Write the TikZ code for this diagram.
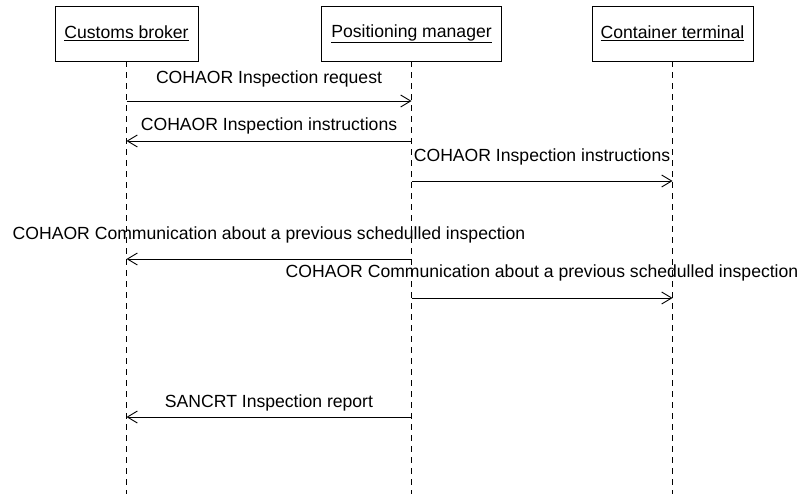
\documentclass[tikz,border=0pt]{standalone}
\usepackage{fontspec}
\setmainfont{Liberation Sans}
\usetikzlibrary{arrows.meta}
\begin{document}
\begin{tikzpicture}[x=1pt,y=-1pt,
  actor/.style={draw,line width=0.9pt,inner sep=0pt,minimum height=55pt,font=\fontsize{17.6}{20}\selectfont},
  lifeline/.style={line width=0.9pt,dash pattern=on 6pt off 5pt},
  msg/.style={line width=0.9pt,-{Straight Barb[length=10pt,width=12pt,line width=0.9pt]}},
  lbl/.style={anchor=base,inner sep=0pt,font=\fontsize{17.6}{20}\selectfont}]
\useasboundingbox (0,0) rectangle (800,494);
% actors
\node[actor,minimum width=143pt] (cb) at (126.5,33.5) {\underline{Customs broker}};
\node[actor,minimum width=180pt] (pm) at (411.5,33.5) {\underline{Positioning manager}};
\node[actor,minimum width=161pt] (ct) at (672.5,33.5) {\underline{Container terminal}};
% lifeline ends
\coordinate (cbe) at (cb.south |- 0,494);
\coordinate (pme) at (pm.south |- 0,494);
\coordinate (cte) at (ct.south |- 0,494);
\draw[lifeline] (cb.south) -- (cbe);
\draw[lifeline] (pm.south) -- (pme);
\draw[lifeline] (ct.south) -- (cte);
% message points
\foreach \n/\y in {1/101,2/141,3/181,4/259,5/298,6/417}{
  \coordinate (cb\n) at (cb.south |- 0,\y);
  \coordinate (pm\n) at (pm.south |- 0,\y);
  \coordinate (ct\n) at (ct.south |- 0,\y);
}
\draw[msg] (cb1) -- (pm1);
\node[lbl] (l1) at (269,84) {COHAOR Inspection request};
\draw[msg] (pm2) -- (cb2);
\node[lbl] (l2) at (269,131) {COHAOR Inspection instructions};
\draw[msg] (pm3) -- (ct3);
\node[lbl] (l3) at (542,162) {COHAOR Inspection instructions};
\draw[msg] (pm4) -- (cb4);
\node[lbl] (l4) at (269,240) {COHAOR Communication about a previous schedulled inspection};
\draw[msg] (pm5) -- (ct5);
\node[lbl] (l5) at (542,277) {COHAOR Communication about a previous schedulled inspection};
\draw[msg] (pm6) -- (cb6);
\node[lbl] (l6) at (269,407) {SANCRT Inspection report};
\end{tikzpicture}
\end{document}
